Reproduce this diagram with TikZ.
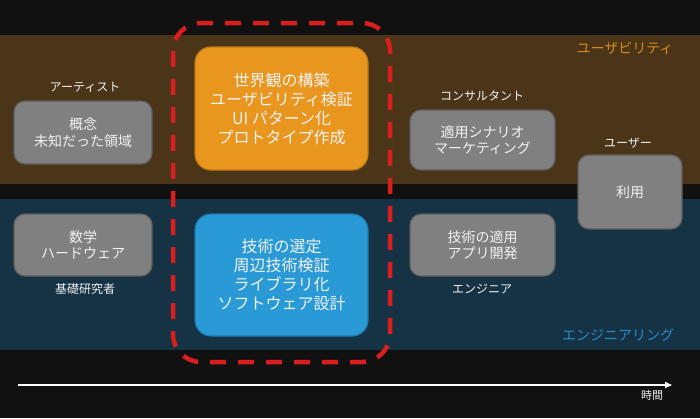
\documentclass[tikz,border=0pt]{standalone}
\usepackage{fontspec}
\setmainfont{Noto Sans CJK JP}
\usetikzlibrary{arrows.meta}
\definecolor{bgc}{HTML}{111111}
\definecolor{brownband}{HTML}{4A3519}
\definecolor{blueband}{HTML}{153345}
\definecolor{grayfill}{HTML}{808080}
\definecolor{grayedge}{HTML}{5E5E5E}
\definecolor{orangefill}{HTML}{E8961E}
\definecolor{orangeedge}{HTML}{C07A14}
\definecolor{bluefill}{HTML}{2A9AD6}
\definecolor{blueedge}{HTML}{1E78AA}
\definecolor{redline}{HTML}{D91E1E}
\definecolor{txt}{HTML}{F2F2F2}
\definecolor{orangetxt}{HTML}{D98A1C}
\definecolor{bluetxt}{HTML}{2A8CC8}
\tikzset{
  graybox/.style={draw=grayedge, line width=1.2pt, fill=grayfill, rounded corners=11pt,
    text=txt, align=center, font=\fontsize{14}{16.5}\selectfont, inner sep=0pt},
  bigbox/.style={line width=1.2pt, rounded corners=16pt, text=txt, align=center,
    font=\fontsize{16}{19}\selectfont, inner sep=0pt, minimum width=173pt, minimum height=123pt},
  rolelabel/.style={text=txt, font=\fontsize{12}{14}\selectfont, inner sep=0pt},
  bandlabel/.style={font=\fontsize{14}{16}\selectfont, inner sep=0pt}
}
\begin{document}
\begin{tikzpicture}[x=1pt,y=-1pt]
\fill[bgc] (0,0) rectangle (700,418);
\useasboundingbox (0,0) rectangle (700,418);
\fill[brownband] (0,35) rectangle (700,184);
\fill[blueband] (0,199) rectangle (700,350);

\node[bandlabel, text=orangetxt] (usab) at (625,48) {ユーザビリティ};
\node[bandlabel, text=bluetxt] (eng) at (618,335) {エンジニアリング};

\node[graybox, minimum width=138pt, minimum height=63pt] (concept) at (83,132.5) {概念\\未知だった領域};
\node[rolelabel] (artist) at (85,87) {アーティスト};
\node[graybox, minimum width=138pt, minimum height=62pt] (math) at (83,245) {数学\\ハードウェア};
\node[rolelabel] (research) at (85,289) {基礎研究者};

\node[bigbox, draw=orangeedge, fill=orangefill] (world) at (281.5,108.5) {世界観の構築\\ユーザビリティ検証\\UI パターン化\\プロトタイプ作成};
\node[bigbox, draw=blueedge, fill=bluefill, minimum height=122pt] (tech) at (281.5,275) {技術の選定\\周辺技術検証\\ライブラリ化\\ソフトウェア設計};

\node[graybox, minimum width=145pt, minimum height=60pt] (apply) at (482.5,140) {適用シナリオ\\マーケティング};
\node[rolelabel] (consult) at (482,96) {コンサルタント};
\node[graybox, minimum width=145pt, minimum height=62pt] (techapp) at (482.5,245) {技術の適用\\アプリ開発};
\node[rolelabel] (engineer) at (482,289) {エンジニア};

\node[graybox, minimum width=104pt, minimum height=74pt] (use) at (630,192) {利用};
\node[rolelabel] (user) at (628,143) {ユーザー};

\draw[redline, line width=4.5pt, dash pattern=on 16pt off 12pt, rounded corners=28pt] (173,23) rectangle (390,362);

\coordinate (tstart) at (18,385);
\coordinate (tend) at (672,385);
\draw[white, line width=1.5pt, -{Triangle[length=7pt,width=6pt]}] (tstart) -- (tend);
\node[rolelabel, font=\fontsize{11}{13}\selectfont] (time) at (652,395) {時間};
\end{tikzpicture}
\end{document}
